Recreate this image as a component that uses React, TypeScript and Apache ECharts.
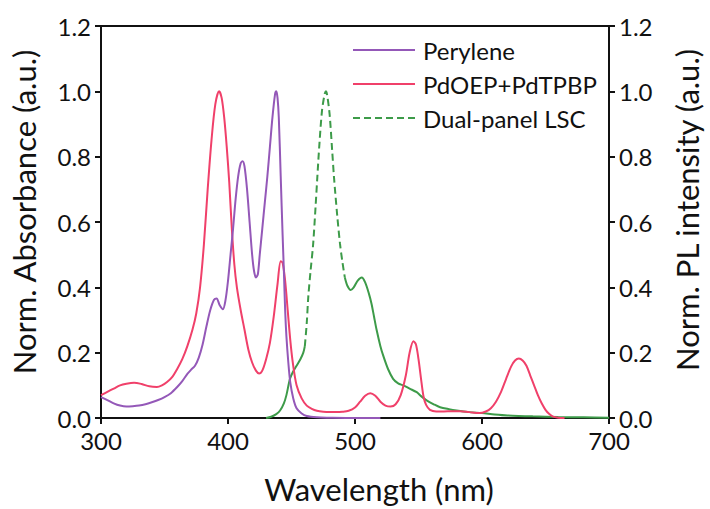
import React, { useEffect, useRef } from "react";
import * as echarts from "echarts";

// ---- Data ----
const xTicks = [300, 400, 500, 600, 700];

const peryleneWl = [300, 305, 310, 315, 320, 325, 330, 335, 340, 345, 350, 355, 360, 364, 368, 371, 374, 377, 380, 383, 386, 389, 391, 393.5, 396, 398, 400, 402, 404, 406, 408, 410, 411.5, 413, 415, 417, 419, 420.5, 422, 423.5, 425, 427, 429, 431, 433, 435, 437, 438, 439, 440, 441.5, 443, 444, 445, 446, 447.5, 449, 451.4, 454, 458, 462, 470, 480, 500, 520];
const peryleneVal = [0.064, 0.055, 0.045, 0.038, 0.035, 0.036, 0.038, 0.042, 0.048, 0.055, 0.064, 0.076, 0.095, 0.113, 0.135, 0.148, 0.16, 0.185, 0.225, 0.28, 0.33, 0.362, 0.366, 0.345, 0.333, 0.36, 0.42, 0.5, 0.58, 0.67, 0.74, 0.78, 0.786, 0.77, 0.7, 0.6, 0.5, 0.45, 0.43, 0.44, 0.5, 0.58, 0.66, 0.74, 0.83, 0.92, 0.99, 1.0, 0.98, 0.92, 0.74, 0.56, 0.45, 0.33, 0.25, 0.17, 0.11, 0.06, 0.03, 0.014, 0.006, 0.002, 0.001, 0.0, 0.0];

const pdWl = [300, 305, 310, 315, 320, 326, 332, 338, 344, 348, 352, 356, 360, 364, 368, 372, 375, 378, 381, 384, 387, 390, 393, 395, 397, 399, 401, 403, 405, 407, 410, 413, 416, 419, 422, 424.5, 427, 430, 433, 436, 439, 441.5, 443, 445, 447, 449, 451, 454, 458, 462, 466, 470, 475, 480, 485, 490, 495, 500, 504, 508, 512, 516, 520, 524, 528, 532, 536, 540, 543, 546, 548, 550, 552, 554, 556, 559, 564, 570, 576, 583, 590, 598, 603, 607, 611, 615, 619, 623, 626, 629, 632, 635, 638, 641, 644, 647, 650, 653, 656, 660, 665];
const pdVal = [0.07, 0.08, 0.09, 0.1, 0.105, 0.108, 0.104, 0.097, 0.095, 0.1, 0.11, 0.125, 0.15, 0.18, 0.22, 0.27, 0.32, 0.4, 0.53, 0.7, 0.85, 0.96, 1.0, 0.98, 0.92, 0.83, 0.72, 0.58, 0.47, 0.4, 0.33, 0.27, 0.21, 0.17, 0.145, 0.136, 0.145, 0.18, 0.23, 0.31, 0.41, 0.48, 0.475, 0.42, 0.33, 0.24, 0.17, 0.1, 0.06, 0.038, 0.028, 0.022, 0.019, 0.018, 0.018, 0.019, 0.022, 0.032, 0.05, 0.068, 0.076, 0.068, 0.05, 0.038, 0.035, 0.042, 0.07, 0.13, 0.2, 0.235, 0.225, 0.18, 0.12, 0.065, 0.04, 0.025, 0.02, 0.02, 0.021, 0.021, 0.018, 0.015, 0.02, 0.03, 0.05, 0.08, 0.12, 0.158, 0.176, 0.182, 0.176, 0.16, 0.13, 0.1, 0.07, 0.045, 0.025, 0.012, 0.004, 0.001, 0.0];

// Dual-panel LSC PL: solid rising edge, dashed main peak, solid tail
const lscRiseWl = [430, 434, 438, 441, 444, 446, 448.8, 451, 454, 457, 459.3, 460.5];
const lscRiseVal = [0.0, 0.004, 0.012, 0.023, 0.045, 0.07, 0.12, 0.14, 0.16, 0.18, 0.2, 0.22];
const lscPeakWl = [460.5, 462, 463.2, 465, 467, 469, 470.3, 472, 474, 476, 477, 478, 480, 482, 483.5, 486, 488.2, 490, 492];
const lscPeakVal = [0.22, 0.29, 0.37, 0.45, 0.53, 0.65, 0.735, 0.84, 0.94, 0.99, 1.0, 0.99, 0.93, 0.82, 0.735, 0.62, 0.533, 0.48, 0.43];
const lscTailWl = [492, 494, 496.6, 499, 502, 505.3, 508, 511, 513, 515, 517, 520, 522.3, 526, 530, 534, 538, 543, 548.6, 552, 556.4, 562, 567, 574, 580, 590, 600, 610, 620, 640, 660, 680, 700];
const lscTailVal = [0.43, 0.405, 0.392, 0.4, 0.42, 0.43, 0.415, 0.38, 0.35, 0.31, 0.27, 0.22, 0.19, 0.15, 0.12, 0.106, 0.1, 0.09, 0.079, 0.067, 0.054, 0.042, 0.033, 0.027, 0.023, 0.018, 0.015, 0.011, 0.008, 0.005, 0.003, 0.002, 0.001];

const PURPLE = "#9458b8";
const RED = "#f0406a";
const GREEN = "#3d9b49";
const FONT = "Lato, 'Open Sans', sans-serif";
const NO_SYMBOL = { color: "rgba(0,0,0,0)", borderWidth: 0 };

const pairs = (xs: number[], ys: number[]) => xs.map((x, i) => [x, ys[i]]);

export default function App() {
  const ref = useRef<HTMLDivElement>(null);
  useEffect(() => {
    if (!ref.current) return;
    const chart = echarts.init(ref.current, undefined, { renderer: "svg" });
    const axisCommon = {
      type: "value" as const,
      min: 0,
      max: 1.2,
      interval: 0.2,
      nameLocation: "middle" as const,
      nameRotate: 90,
      axisLine: { show: true, lineStyle: { color: "#111", width: 2 } },
      axisTick: { show: true, inside: false, length: 6, lineStyle: { color: "#111", width: 2 } },
      axisLabel: { fontSize: 24, color: "#111", fontFamily: FONT, margin: 10, formatter: (v: number) => v.toFixed(1) },
      splitLine: { show: false },
    };
    const lineCommon = {
      type: "line" as const,
      showSymbol: false,
      symbol: "none",
      smooth: 0.3,
      itemStyle: NO_SYMBOL,
    };
    chart.setOption({
      animation: false,
      backgroundColor: "#fff",
      grid: { left: 101, right: 101, top: 26, bottom: 86, show: true, borderColor: "#111", borderWidth: 2, backgroundColor: "transparent" },
      legend: {
        data: ["Perylene", "PdOEP+PdTPBP", "Dual-panel LSC"],
        orient: "vertical",
        left: 352,
        top: 38,
        padding: 0,
        itemWidth: 62,
        itemHeight: 12,
        itemGap: 10,
        itemStyle: { opacity: 0 },
        textStyle: { fontSize: 24, color: "#111", fontFamily: FONT, lineHeight: 24, padding: [0, 0, 0, 3] },
      },
      xAxis: {
        type: "value",
        min: 300,
        max: 700,
        interval: 100,
        name: "Wavelength (nm)",
        nameLocation: "middle",
        nameGap: 55,
        nameTextStyle: { fontSize: 31, color: "#111", fontFamily: FONT, padding: [0, 0, 0, 48] },
        axisLine: { show: true, lineStyle: { color: "#111", width: 2 } },
        axisTick: { show: true, inside: false, length: 6, lineStyle: { color: "#111", width: 2 } },
        axisLabel: { fontSize: 24, color: "#111", fontFamily: FONT, margin: 10, customValues: xTicks },
        splitLine: { show: false },
      },
      yAxis: [
        {
          ...axisCommon,
          position: "left",
          name: "Norm. Absorbance (a.u.)",
          nameGap: 62,
          nameTextStyle: { fontSize: 31, color: "#111", fontFamily: FONT, padding: [0, 0, 0, 20] },
        },
        {
          ...axisCommon,
          position: "right",
          name: "Norm. PL intensity (a.u.)",
          nameGap: 62,
          nameTextStyle: { fontSize: 31, color: "#111", fontFamily: FONT, padding: [0, 0, 0, 24] },
        },
      ],
      series: [
        { ...lineCommon, name: "Perylene", data: pairs(peryleneWl, peryleneVal), lineStyle: { color: PURPLE, width: 2 }, z: 3 },
        { ...lineCommon, name: "PdOEP+PdTPBP", data: pairs(pdWl, pdVal), lineStyle: { color: RED, width: 2 }, z: 2 },
        { ...lineCommon, name: "Dual-panel LSC", yAxisIndex: 1, data: pairs(lscPeakWl, lscPeakVal), lineStyle: { color: GREEN, width: 2, type: [7, 4] }, z: 1 },
        { ...lineCommon, name: "LSC rise", yAxisIndex: 1, data: pairs(lscRiseWl, lscRiseVal), lineStyle: { color: GREEN, width: 2 }, z: 1 },
        { ...lineCommon, name: "LSC tail", yAxisIndex: 1, data: pairs(lscTailWl, lscTailVal), lineStyle: { color: GREEN, width: 2 }, z: 1 },
      ],
    });
    return () => chart.dispose();
  }, []);
  return <div ref={ref} style={{ width: 710, height: 509, position: "absolute", left: 0, top: 0 }} />;
}
